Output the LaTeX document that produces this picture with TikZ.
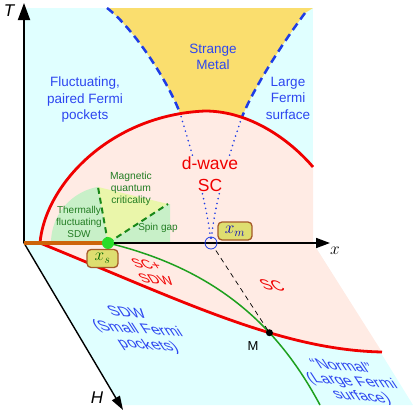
\documentclass[tikz,border=0pt]{standalone}
\usepackage{fontspec}
\setmainfont{Liberation Sans}
\usetikzlibrary{arrows.meta,intersections,calc}
\definecolor{cyanbg}{RGB}{224,255,255}
\definecolor{yellowsm}{RGB}{250,222,110}
\definecolor{pinksc}{RGB}{255,235,228}
\definecolor{redl}{RGB}{240,0,0}
\definecolor{bluetext}{RGB}{45,70,240}
\definecolor{bluedash}{RGB}{30,60,230}
\definecolor{greentext}{RGB}{35,125,35}
\definecolor{lightgreen}{RGB}{200,240,200}
\definecolor{yelgreen}{RGB}{234,246,170}
\definecolor{greendot}{RGB}{40,220,40}
\definecolor{greenl}{RGB}{30,160,30}
\definecolor{orangel}{RGB}{205,100,10}
\definecolor{boxfill}{RGB}{222,222,112}
\definecolor{boxdraw}{RGB}{165,90,40}
\begin{document}
\begin{tikzpicture}[x=1pt,y=-1pt,
  bluelab/.style={text=bluetext,font=\fontsize{13.5}{16.5}\selectfont,align=center,inner sep=1pt},
  greenlab/.style={text=greentext,font=\fontsize{10.3}{12.3}\selectfont,align=center,inner sep=1pt},
  planelab/.style={cm={1,-0.08,-0.6,0.92,(0,0)},align=center,inner sep=1pt},
  smdash/.style={bluedash,line width=2.5pt,dash pattern=on 8pt off 5pt},
  dotblue/.style={bluedash,line width=1.8pt,line cap=round,dash pattern=on 0pt off 5pt},
  redline/.style={redl,line width=2.8pt},
  greenline/.style={greenl,line width=1.5pt},
  gdash/.style={greenl!85!black,line width=2pt,dash pattern=on 6pt off 4pt},
  xbox/.style={draw=boxdraw,fill=boxfill,line width=1.3pt,rounded corners=4pt,minimum width=31pt,minimum height=18pt,inner sep=1pt,font=\fontsize{17.28}{17.28}\selectfont}
]
\useasboundingbox (0,0) rectangle (415,415);
% coordinates
\coordinate (O) at (24,243);
\coordinate (Ttip) at (24,3);
\coordinate (Xtip) at (330,243);
\coordinate (Htip) at (123,410);
\coordinate (xs) at (108,243);
\coordinate (xm) at (211,243);
\coordinate (D0) at (40,243);
\coordinate (Dtop) at (205,111);
\coordinate (D1) at (313,167);
\coordinate (L1) at (107,8);
\coordinate (L2) at (180,113);
\coordinate (R1) at (305,13);
\coordinate (R2) at (242,117);
\coordinate (Rend) at (382,352);
\coordinate (Gend) at (320,405);
\coordinate (FA) at (98,187);
\coordinate (FB) at (168,204);
% backgrounds
\fill[cyanbg] (24,8) rectangle (313,243);
\fill[cyanbg] (O) -- (313,243) -- (413,405) -- (120,405) -- cycle;
\fill[yellowsm] (L1) .. controls (130,25) and (165,75) .. (L2) -- (210,125) -- (R2) .. controls (255,85) and (285,40) .. (R1) -- (313,8) -- cycle;
\fill[pinksc] (D0) .. controls (45,185) and (110,115) .. (Dtop) .. controls (250,111) and (290,140) .. (D1) -- (313,243) -- cycle;
\fill[pinksc] (D0) .. controls (180,300) and (280,350) .. (Rend) -- (313,243) -- cycle;
% green fans
\fill[lightgreen] (xs) -- plot[domain=180:100,samples=25] ({108+57*cos(\x)},{243-57*sin(\x)}) -- cycle;
\fill[yelgreen] (xs) -- (FA) -- (FB) -- cycle;
\fill[lightgreen] (xs) -- (FB) -- (170,204) -- (170,243) -- cycle;
% blue dashed and dotted
\draw[smdash] (L1) .. controls (130,25) and (165,75) .. (L2);
\draw[smdash] (R1) .. controls (285,40) and (255,85) .. (R2);
\draw[dotblue] (xm) .. controls (207,200) and (188,140) .. (L2);
\draw[dotblue] (xm) .. controls (214,200) and (234,140) .. (R2);
\node[fill=pinksc,text=redl,font=\fontsize{17.5}{22}\selectfont,align=center,inner sep=1pt] (dw) at (210,174) {d-wave\\SC};
% red lines
\draw[redline,name path=dome] (D0) .. controls (45,185) and (110,115) .. (Dtop) .. controls (250,111) and (290,140) .. (D1);
\draw[redline,name path=lower] (D0) .. controls (180,300) and (280,350) .. (Rend);
\draw[greenline,name path=gl] (xs) .. controls (220,270) and (280,330) .. (Gend);
\path[name intersections={of=lower and gl,by=M}];
\draw[black,line width=0.7pt,dash pattern=on 5pt off 4pt,shorten <=9pt] (xm) -- (M);
% axes
\draw[black,line width=1.8pt,-{Triangle[length=17pt,width=12pt]}] (O) -- (Ttip);
\draw[black,line width=1.6pt,-{Triangle[length=14pt,width=10pt]}] (O) -- (Xtip);
\draw[black,line width=1.4pt,-{Triangle[length=14pt,width=9pt]}] (O) -- (Htip);
\draw[orangel,line width=4.5pt] (O) -- (xs);
% green dashed
\draw[gdash] (xs) -- (FA);
\draw[gdash] (xs) -- (FB);
% dots
\fill[greendot] (xs) circle (6);
\draw[bluedash,line width=0.8pt] (xm) circle (6);
\fill[black] (M) circle (3.5);
% labels
\node[xbox,text=green!40!black] (xsb) at (102.5,258.5) {$x_s$};
\node[xbox,text=blue!75!black,minimum width=34pt] (xmb) at (235,231) {$x_m$};
\node[font=\fontsize{17}{17}\selectfont\itshape] (Tl) at (9,11) {T};
\node[font=\fontsize{17}{17}\selectfont] (xl) at (335,251) {$x$};
\node[font=\fontsize{17}{17}\selectfont\itshape] (Hl) at (97,398) {H};
\node[bluelab] (fl) at (85,100) {Fluctuating,\\paired Fermi\\pockets};
\node[bluelab] (sm) at (213,57) {Strange\\Metal};
\node[bluelab] (lf) at (288,98) {Large\\Fermi\\surface};
\node[greenlab] (mq) at (131,189) {Magnetic\\quantum\\criticality};
\node[greenlab,font=\fontsize{10}{12}\selectfont] (tf) at (79,222) {Thermally\\fluctuating\\SDW};
\node[greenlab,font=\fontsize{10}{12}\selectfont] (sg) at (158,228) {Spin gap};
\node[planelab,text=redl,font=\fontsize{14}{16}\selectfont] (scsdw) at (151,272) {SC+\\SDW};
\node[planelab,text=redl,font=\fontsize{16}{17}\selectfont] (sc) at (272,285) {SC};
\node[planelab,text=bluetext,font=\fontsize{15.5}{17.5}\selectfont] (sdw) at (138,330) {SDW\\(Small Fermi\\pockets)};
\node[planelab,text=bluetext,font=\fontsize{15.5}{16.5}\selectfont] (nl) at (352,382) {“Normal”\\(Large Fermi\\surface)};
\node[font=\fontsize{13}{13}\selectfont] (Ml) at (253,346) {M};
\end{tikzpicture}
\end{document}
